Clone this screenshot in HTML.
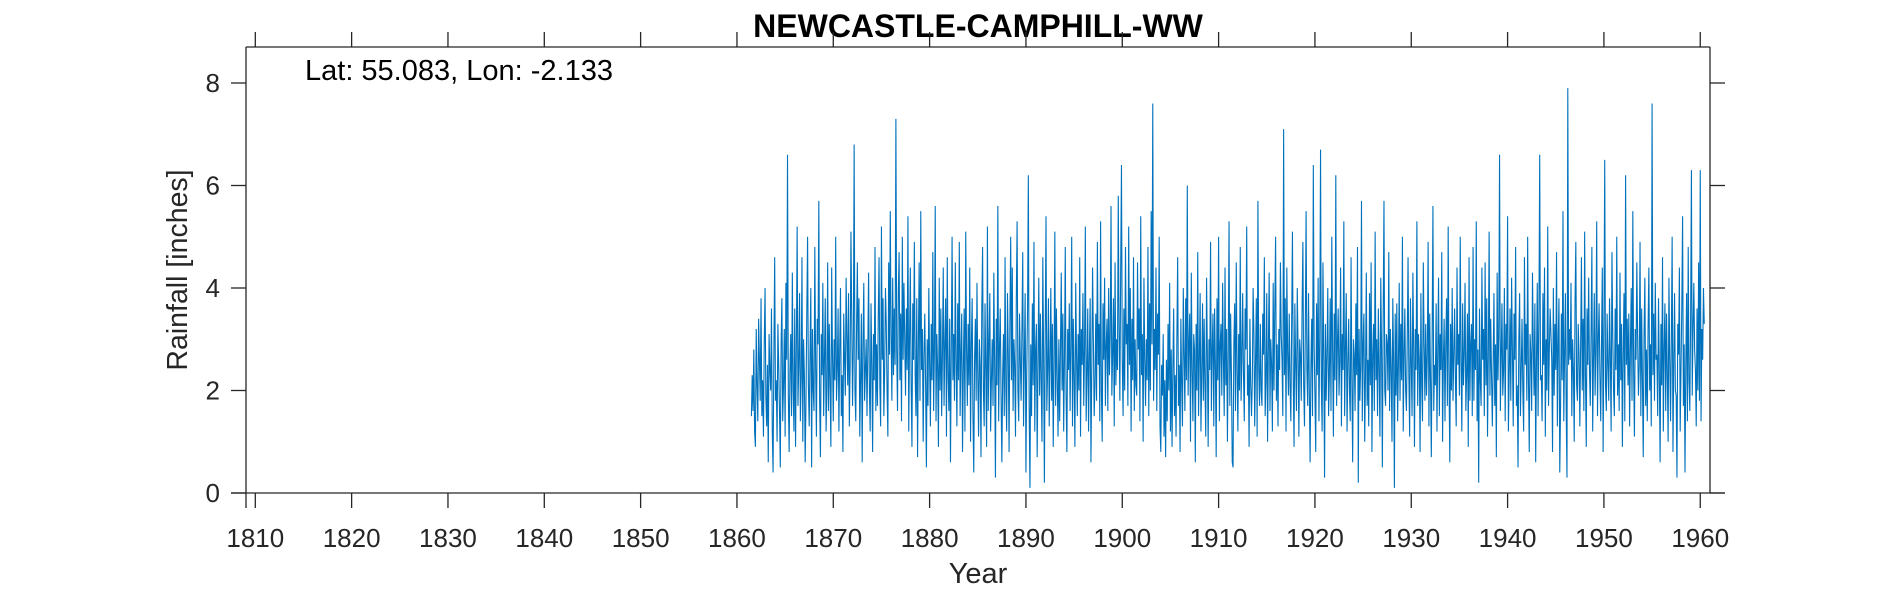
<!DOCTYPE html>
<html><head><meta charset="utf-8"><style>
body{margin:0;background:#fff;}
svg{display:block;font-family:"Liberation Sans",Arial,sans-serif;}
</style></head><body>
<svg id="chart" width="1890" height="591" viewBox="0 0 1890 591" xmlns="http://www.w3.org/2000/svg">
<rect width="1890" height="591" fill="#fff"/>
<text x="978" y="37" text-anchor="middle" font-size="32" font-weight="bold" fill="#000">NEWCASTLE-CAMPHILL-WW</text>
<g id="plot"></g>
<g id="axes"></g>
<text x="305" y="80" font-size="29" fill="#000">Lat: 55.083, Lon: -2.133</text>
<text x="978" y="583" text-anchor="middle" font-size="29" fill="#262626">Year</text>
<text transform="translate(187,270) rotate(-90)" text-anchor="middle" font-size="28.5" fill="#262626">Rainfall [inches]</text>
</svg>
<script>
const startYear = 1861.5;
const xTicks = [1810,1820,1830,1840,1850,1860,1870,1880,1890,1900,1910,1920,1930,1940,1950,1960];
const yTicks = [0,2,4,6,8];
const rainfall = [
1.5,2.3,1.6,2.8,1.2,0.9,3.2,2.1,1.4,3.4,2.6,1.8,
3.8,1.5,2.2,1.1,2.9,4.0,1.9,1.3,2.5,0.6,3.1,2.4,
2.0,3.6,1.2,0.4,2.7,4.6,1.8,2.2,1.0,3.3,2.5,1.6,
0.5,2.9,3.8,1.4,2.1,3.2,1.1,4.1,2.6,6.6,1.9,0.8,
2.4,3.1,1.5,4.3,2.0,1.2,3.6,0.9,2.8,5.2,1.7,2.5,
3.9,1.4,2.2,4.6,1.0,3.0,2.3,0.6,1.8,3.5,5.0,2.1,
1.3,2.7,4.0,0.5,3.2,2.0,1.6,4.8,2.5,1.1,3.4,2.9,
5.7,1.8,0.7,3.1,2.3,4.1,1.5,2.6,3.8,1.2,2.0,4.5,
1.6,3.3,2.1,0.9,4.4,2.7,1.4,3.0,2.2,5.0,1.8,2.4,
3.6,1.2,2.8,4.0,1.5,2.3,0.8,3.5,2.6,1.9,4.2,3.0,
2.1,3.9,1.3,2.5,5.1,3.4,1.7,2.9,6.8,2.0,1.4,3.2,
4.5,2.6,3.8,1.1,2.2,3.5,0.6,2.9,4.1,1.8,2.4,3.0,
1.5,2.8,4.3,2.0,1.2,3.7,2.5,0.8,3.1,2.2,4.8,1.6,
2.9,1.7,3.4,4.6,2.1,1.3,5.2,2.6,3.8,1.5,2.4,4.0,
3.3,2.0,1.1,4.5,2.7,5.5,3.1,1.8,4.2,2.3,3.6,2.5,
7.3,2.8,1.6,3.9,4.7,2.2,3.5,1.4,5.0,2.6,4.1,3.0,
1.9,3.6,2.4,5.4,1.2,3.0,4.4,2.1,0.9,3.7,2.6,4.9,
2.3,1.5,3.8,0.7,2.9,4.5,1.8,5.5,2.4,3.2,1.0,2.7,
3.5,2.1,0.5,3.0,1.7,4.0,2.5,1.3,3.3,2.2,4.7,1.6,
2.8,5.6,1.4,3.1,2.4,0.9,4.2,2.0,3.6,1.5,2.7,4.4,
1.7,2.9,3.8,1.1,4.6,2.3,1.6,3.4,0.6,2.8,5.0,2.2,
3.1,1.8,4.5,2.6,1.3,3.7,2.2,4.9,1.5,2.7,3.5,0.8,
2.4,3.6,1.2,5.1,2.8,1.7,3.3,2.1,4.4,1.0,2.9,3.8,
1.5,0.4,2.6,3.4,1.8,4.1,2.3,1.1,3.0,2.5,0.7,3.6,
4.8,2.0,1.3,3.7,2.4,0.9,5.2,1.6,2.9,3.9,1.2,2.2,
3.0,1.7,4.3,2.5,0.3,3.4,2.1,5.6,1.4,2.8,3.6,1.9,
0.6,2.3,3.1,1.5,4.6,2.0,1.2,3.9,2.7,0.8,3.3,5.0,
2.2,4.4,1.6,3.0,2.5,1.1,3.8,5.3,2.0,1.4,3.5,2.6,
1.8,3.2,4.7,1.3,2.6,3.9,0.4,2.4,3.6,6.2,1.7,0.1,
2.9,1.5,3.7,2.1,4.9,1.2,2.8,3.3,0.7,2.5,4.2,1.9,
3.5,2.2,1.0,4.6,2.7,0.2,3.1,5.4,1.6,2.4,3.8,1.3,
2.6,4.0,1.8,3.3,0.9,2.5,5.1,1.7,3.6,2.2,1.1,3.0,
1.4,2.8,4.3,2.0,3.5,1.2,2.6,4.8,1.9,0.8,3.2,2.4,
3.7,1.6,2.9,5.0,1.3,3.4,2.2,0.9,4.1,2.7,1.5,3.1,
2.0,4.6,1.1,3.2,2.5,3.9,1.7,2.8,5.2,1.4,2.3,3.6,
1.2,2.7,3.8,0.6,2.4,4.4,3.0,1.5,2.1,3.5,1.8,4.9,
2.5,3.3,1.4,5.3,2.0,1.0,3.7,2.6,4.2,1.7,2.9,3.4,
1.6,4.0,2.3,3.1,5.6,1.9,2.7,3.8,1.3,4.5,2.1,3.0,
2.4,5.8,3.2,1.8,4.3,6.4,2.6,1.5,3.6,2.0,4.8,2.9,
3.3,1.7,5.2,2.5,4.0,1.2,3.4,2.2,4.6,1.6,3.0,2.1,
1.9,4.5,2.8,3.6,1.4,5.4,2.3,3.1,1.0,4.2,2.6,1.7,
3.0,2.2,4.8,1.5,3.7,2.0,5.5,2.9,7.6,1.8,3.2,2.4,
4.4,1.6,3.5,2.7,5.0,1.3,0.8,2.5,1.9,3.1,1.1,2.2,
0.7,2.6,1.4,3.3,2.0,4.1,1.2,2.8,0.9,2.4,3.6,1.5,
2.3,1.1,3.0,4.6,1.7,2.5,0.8,3.4,2.1,1.3,4.0,2.7,
1.6,3.8,2.2,6.0,1.9,2.9,3.5,1.0,4.3,2.4,1.4,3.1,
2.8,0.6,3.3,2.0,4.7,1.5,2.6,3.9,1.2,2.3,3.7,1.8,
3.4,2.1,1.1,4.2,2.7,0.9,3.0,2.4,4.9,1.6,2.8,3.5,
1.3,3.6,2.5,0.7,3.8,2.2,5.0,1.4,2.9,3.3,1.9,4.1,
2.6,1.5,4.4,2.1,3.2,1.0,2.7,5.3,1.7,3.5,2.3,0.6,
0.5,2.9,3.7,1.6,4.5,2.4,1.2,3.1,2.0,4.8,1.8,2.6,
3.9,2.3,1.4,3.6,2.8,5.2,1.9,2.5,0.9,3.4,2.1,1.5,
2.2,4.0,3.1,1.3,2.6,3.8,1.1,5.7,2.4,1.7,3.3,2.0,
1.7,3.5,2.7,4.6,1.5,2.2,3.9,1.0,2.8,4.3,1.6,3.0,
2.5,1.2,4.1,2.0,3.6,5.0,1.8,2.9,1.3,3.2,2.4,4.5,
3.1,2.6,1.5,7.1,2.3,3.8,1.2,4.4,2.7,1.9,3.5,2.1,
1.4,3.3,5.1,2.2,0.9,3.7,2.5,1.6,4.0,2.8,1.1,3.0,
2.7,1.8,3.6,4.9,2.1,1.3,3.2,5.5,2.4,1.7,3.9,2.0,
0.6,2.5,3.4,1.5,6.4,2.9,1.9,0.8,3.7,2.3,4.2,1.4,
3.0,6.7,2.1,1.2,4.5,2.6,0.3,3.3,1.8,2.7,4.0,1.5,
2.3,3.8,1.6,5.0,2.8,1.1,3.5,2.2,6.2,1.7,2.9,3.6,
1.9,2.6,4.4,1.3,3.1,2.4,5.3,1.5,2.8,3.9,1.2,2.5,
3.4,2.0,1.4,4.6,2.2,0.6,3.0,2.7,1.6,3.7,2.3,4.8,
0.2,3.2,1.8,2.5,5.7,1.4,2.9,3.5,1.0,2.3,4.3,1.7,
2.6,1.3,3.9,2.1,4.5,0.8,2.7,3.3,1.6,5.1,2.2,3.0,
1.5,3.6,2.4,1.1,4.2,2.8,0.5,3.4,5.7,2.0,1.7,3.1,
2.9,2.0,4.7,1.6,3.2,2.4,1.0,3.8,2.6,0.1,3.5,1.9,
3.7,1.4,2.5,4.1,1.8,3.3,2.2,5.0,1.2,2.7,3.6,2.0,
1.6,3.0,4.6,2.3,1.1,3.8,2.5,1.5,4.3,2.8,0.9,3.2,
2.4,5.3,1.7,3.1,2.6,0.8,3.9,2.1,1.4,4.5,2.9,1.8,
3.3,1.9,2.7,4.9,1.3,3.5,2.2,0.7,3.0,5.6,1.6,2.5,
2.1,3.7,1.2,2.8,4.2,1.5,3.1,2.4,4.7,1.0,2.6,3.4,
1.4,2.9,3.8,1.7,5.2,2.3,0.6,3.3,2.0,4.0,1.8,2.7,
3.6,2.2,1.3,4.4,2.5,3.1,1.9,5.0,2.6,1.2,3.7,2.1,
2.7,4.1,1.6,2.3,3.5,0.9,4.6,1.8,2.9,3.3,1.5,4.8,
1.8,3.0,2.4,5.3,1.4,2.8,0.2,3.6,2.2,1.7,4.4,2.6,
3.2,1.5,4.5,2.1,3.8,1.1,2.7,5.1,1.9,3.4,2.3,1.3,
2.5,3.9,1.7,2.9,0.7,4.3,2.2,3.1,6.6,1.6,2.6,3.7,
1.9,2.4,4.0,1.4,3.3,2.8,5.4,1.2,2.3,3.6,1.8,4.2,
2.8,1.3,3.5,2.6,4.8,1.7,2.1,0.5,3.0,3.9,1.5,2.4,
3.4,2.0,1.2,4.6,2.5,3.3,1.8,5.0,2.2,0.8,3.1,2.7,
1.6,4.3,2.9,1.9,3.7,0.6,2.6,4.1,1.5,3.4,6.6,2.2,
2.3,1.4,3.9,2.5,4.4,1.1,3.0,2.0,5.2,1.7,2.8,3.6,
3.1,2.6,0.8,4.0,1.9,3.3,2.4,4.7,1.3,2.9,3.8,0.4,
1.7,3.5,2.2,5.5,1.4,2.7,3.9,1.6,0.3,7.9,2.5,3.2,
2.6,4.1,1.5,3.0,2.4,1.0,3.7,4.9,2.1,1.8,3.3,2.7,
1.3,2.9,4.6,2.0,3.4,1.6,5.1,2.3,0.9,3.6,2.5,4.2,
2.4,1.7,3.1,4.8,1.2,2.6,3.9,1.9,2.8,5.3,1.5,3.0,
3.7,2.3,1.4,2.9,4.4,0.8,3.2,6.5,2.1,1.6,3.5,2.5,
1.8,3.8,2.6,1.2,4.7,3.1,2.0,1.5,3.6,2.4,5.0,1.9,
2.9,1.6,4.3,2.2,3.3,0.9,2.7,3.9,1.4,6.2,2.5,3.4,
2.1,3.5,1.3,2.8,4.0,1.8,5.5,2.4,1.1,3.2,2.6,4.5,
3.0,1.9,2.5,4.9,1.5,3.6,2.2,0.7,3.1,4.2,1.7,2.8,
1.4,3.2,4.4,2.0,2.9,1.3,7.6,2.3,3.5,1.8,4.1,2.6,
2.7,1.5,3.8,2.4,0.6,3.3,2.1,4.6,1.2,2.8,3.7,1.6,
3.5,2.3,1.0,4.2,2.6,1.4,3.0,5.0,0.8,2.5,3.9,2.0,
1.9,0.3,3.3,2.7,4.4,1.2,2.4,3.6,5.4,1.7,2.9,0.4,
2.5,3.9,1.4,4.8,2.2,1.6,3.4,6.3,1.9,3.2,4.1,2.8,
2.4,1.3,3.6,2.0,4.5,1.8,6.3,1.4,3.2,2.6,4.0,3.3
];
const L=246,R=1710,T=47,B=493;
const x0=1810,xpx=9.633;
const xs=y=>255.3+(y-x0)*xpx;
const ys=v=>B-v*51.25;
const NS="http://www.w3.org/2000/svg";
function mk(tag,attrs,parent){const e=document.createElementNS(NS,tag);for(const k in attrs)e.setAttribute(k,attrs[k]);parent.appendChild(e);return e;}
const plot=document.getElementById('plot');
let d='';
rainfall.forEach((v,i)=>{d+=(i?'L':'M')+xs(startYear+i/12).toFixed(2)+','+ys(v).toFixed(2);});
const line=mk('path',{d:d,fill:'none',stroke:'#0072BD','stroke-width':'1.1'},plot);


const ax=document.getElementById('axes');
const st={stroke:'#262626','stroke-width':'1.3',fill:'none'};
mk('line',Object.assign({x1:231,y1:B,x2:1725,y2:B},st),ax);
mk('line',Object.assign({x1:L,y1:T,x2:L,y2:508},st),ax);
mk('line',Object.assign({x1:L,y1:T,x2:R,y2:T},st),ax);
mk('line',Object.assign({x1:R,y1:T,x2:R,y2:B},st),ax);
xTicks.forEach(t=>{
  const x=xs(t);
  mk('line',Object.assign({x1:x,y1:B,x2:x,y2:508},st),ax);
  mk('line',Object.assign({x1:x,y1:T,x2:x,y2:32},st),ax);
  const tx=mk('text',{x:x,y:547,'text-anchor':'middle','font-size':'26',fill:'#262626'},ax);
  tx.textContent=t;
  
  
});
yTicks.forEach(t=>{
  const y=ys(t);
  mk('line',Object.assign({x1:231,y1:y,x2:L,y2:y},st),ax);
  mk('line',Object.assign({x1:R,y1:y,x2:1725,y2:y},st),ax);
  const tx=mk('text',{x:220,y:y+9,'text-anchor':'end','font-size':'26',fill:'#262626'},ax);
  tx.textContent=t;
  
  
});
</script>
</body></html>
